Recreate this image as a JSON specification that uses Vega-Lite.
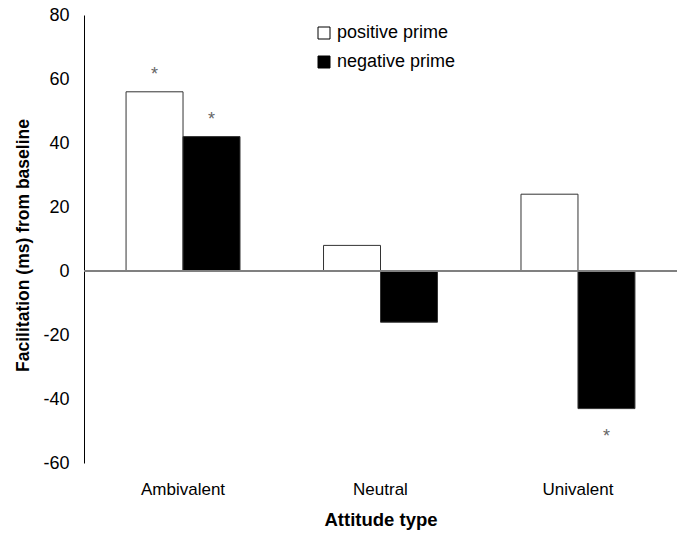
{
  "$schema": "https://vega.github.io/schema/vega-lite/v6.json",
  "width": 593,
  "height": 448,
  "autosize": "none",
  "padding": {"left": 84, "top": 15, "right": 3, "bottom": 71},
  "background": "white",
  "config": {"view": {"stroke": null}, "font": "Liberation Sans"},
  "data": {"values": [
    {"type": "Ambivalent", "prime": "positive prime", "value": 56, "sig": "*"},
    {"type": "Ambivalent", "prime": "negative prime", "value": 42, "sig": "*"},
    {"type": "Neutral", "prime": "positive prime", "value": 8, "sig": ""},
    {"type": "Neutral", "prime": "negative prime", "value": -16, "sig": ""},
    {"type": "Univalent", "prime": "positive prime", "value": 24, "sig": ""},
    {"type": "Univalent", "prime": "negative prime", "value": -43, "sig": "*"}
  ]},
  "encoding": {
    "x": {"field": "type", "type": "nominal", "sort": ["Ambivalent", "Neutral", "Univalent"],
      "scale": {"paddingInner": 0.423, "paddingOuter": 0.213},
      "axis": {"title": "Attitude type", "labelAngle": 0, "domain": false, "ticks": false,
        "labelFontSize": 17, "labelPadding": 18, "labelColor": "#000",
        "titleFontSize": 18.5, "titleFontWeight": "bold", "titlePadding": 13, "titleColor": "#000"}},
    "xOffset": {"field": "prime", "type": "nominal", "sort": ["positive prime", "negative prime"], "scale": {"paddingInner": 0, "paddingOuter": 0}},
    "y": {"field": "value", "type": "quantitative",
      "scale": {"domain": [-60, 80], "nice": false, "zero": false},
      "axis": {"title": "Facilitation (ms) from baseline", "values": [-60, -40, -20, 0, 20, 40, 60, 80],
        "labelExpr": "'' + datum.value",
        "grid": false, "ticks": false, "domainColor": "#000", "domainWidth": 1,
        "labelFontSize": 18, "labelPadding": 15, "labelColor": "#000",
        "titleFontSize": 17.5, "titleFontWeight": "bold", "titlePadding": 10, "titleColor": "#000", "titleY": 230}}
  },
  "layer": [
    {"mark": {"type": "bar", "stroke": "#333", "strokeWidth": 1},
      "encoding": {"color": {"field": "prime", "type": "nominal",
        "scale": {"domain": ["positive prime", "negative prime"], "range": ["white", "black"]},
        "legend": {"title": null, "orient": "none", "legendX": 231, "legendY": 9,
          "symbolType": "square", "symbolSize": 144, "symbolStrokeColor": "#000", "symbolStrokeWidth": 1,
          "labelFontSize": 18, "labelColor": "#000", "rowPadding": 11, "labelOffset": 4}}}},
    {"mark": {"type": "rule", "color": "#808080", "strokeWidth": 1.5},
      "encoding": {"y": {"datum": 0}, "x": null, "xOffset": null}},
    {"transform": [{"filter": "datum.sig != '' && datum.value > 0"}],
      "mark": {"type": "text", "baseline": "middle", "dy": -17, "fontSize": 18, "color": "#666"},
      "encoding": {"text": {"field": "sig"}}},
    {"transform": [{"filter": "datum.sig != '' && datum.value < 0"}],
      "mark": {"type": "text", "baseline": "middle", "dy": 28, "fontSize": 18, "color": "#666"},
      "encoding": {"text": {"field": "sig"}}}
  ]
}
